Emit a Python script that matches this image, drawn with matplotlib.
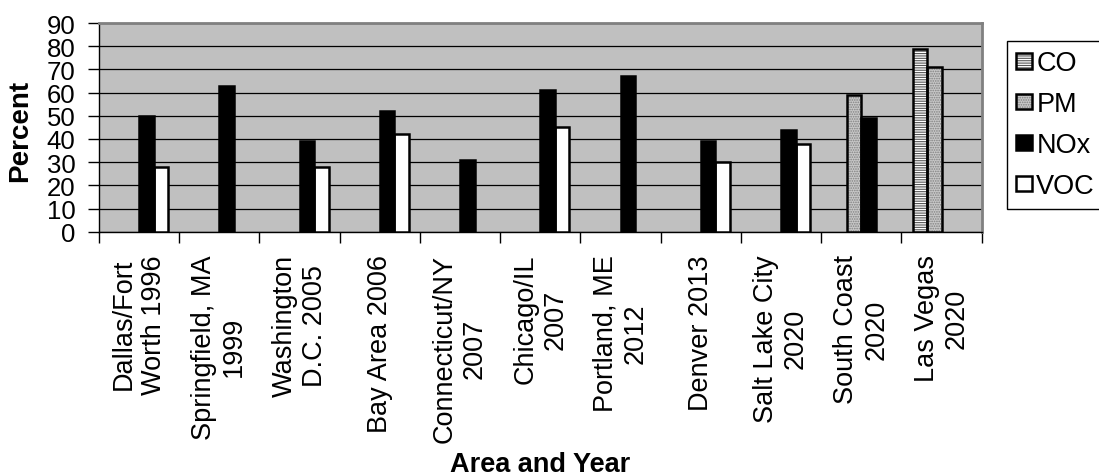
import numpy as np
import matplotlib.pyplot as plt
from matplotlib.legend_handler import HandlerTuple

plt.rcParams['font.family'] = ['Liberation Sans', 'DejaVu Sans']
plt.rcParams['hatch.linewidth'] = 0.8

areas = ['Dallas/Fort\nWorth 1996', 'Springfield, MA\n1999', 'Washington\nD.C. 2005',
         'Bay Area 2006', 'Connecticut/NY\n2007', 'Chicago/IL\n2007', 'Portland, ME\n2012',
         'Denver 2013', 'Salt Lake City\n2020', 'South Coast\n2020', 'Las Vegas\n2020']
nan = np.nan
co = [nan, nan, nan, nan, nan, nan, nan, nan, nan, nan, 79]
pm = [nan, nan, nan, nan, nan, nan, nan, nan, nan, 59, 71]
nox = [50, 63, 39, 52, 31, 61, 67, 39, 44, 49, nan]
voc = [28, nan, 28, 42, nan, 45, nan, 30, 38, nan, nan]

series = [('CO', co, 'white', '-------', '#555555'),
          ('PM', pm, '#c8c8c8', '.......', '#808080'),
          ('NOx', nox, 'black', None, 'black'),
          ('VOC', voc, 'white', None, 'black')]

fig = plt.figure(figsize=(10.99, 4.77), dpi=100)
ax = fig.add_axes([99/1099, 1 - 232.7/477, (981.7 - 99)/1099, (232.7 - 24)/477])
ax.set_facecolor('#c0c0c0')

x = np.arange(len(areas))
w = 0.18
handles = []
for i, (name, vals, fc, hatch, hc) in enumerate(series):
    pos = x + (i - 1.5) * w
    fill = ax.bar(pos, vals, w, color=fc, hatch=hatch, edgecolor=hc, linewidth=0, zorder=3)
    edge = ax.bar(pos, vals, w, fill=False, edgecolor='black', linewidth=1.8, zorder=4)
    handles.append((fill[0], edge[0]))

ax.set_ylim(0, 90)
ax.set_xlim(-0.5, len(areas) - 0.5)
ax.set_yticks(range(0, 91, 10))
ax.yaxis.grid(True, color='black', linewidth=0.9, zorder=1)
ax.set_axisbelow(True)
ax.tick_params(axis='y', labelsize=18.5, length=8, width=1, pad=9, direction='out')
ax.set_xticks(x)
ax.set_xticklabels(areas, rotation=90, ha='center', va='top', multialignment='center', fontsize=19.5)
ax.tick_params(axis='x', length=0, pad=16)
ax.set_xticks(np.arange(-0.5, len(areas)), minor=True)
ax.tick_params(axis='x', which='minor', length=8, width=1, direction='out')

for s in ['left', 'bottom']:
    ax.spines[s].set_color('black')
    ax.spines[s].set_linewidth(1)
for s in ['top', 'right']:
    ax.spines[s].set_color('#808080')
    ax.spines[s].set_linewidth(2)

fig.text(20/1099, 1 - 131/477, 'Percent', rotation=90, ha='center', va='center',
         fontsize=20, fontweight='bold')
fig.text(540/1099, 1 - 465/477, 'Area and Year', ha='center', va='center',
         fontsize=19.5, fontweight='bold')

leg = fig.legend(handles, [s[0] for s in series], handler_map={tuple: HandlerTuple(ndivide=1, pad=0)},
                 loc='upper left', bbox_to_anchor=(1006.5/1099, 1 - 42/477), fontsize=19.5,
                 handlelength=0.6, handleheight=0.5, handletextpad=0.15, labelspacing=0.55,
                 borderpad=0.35, borderaxespad=0, fancybox=False, framealpha=1)
leg.get_frame().set_edgecolor('black')
leg.get_frame().set_linewidth(1)

fig.savefig('out.png', dpi=100)
